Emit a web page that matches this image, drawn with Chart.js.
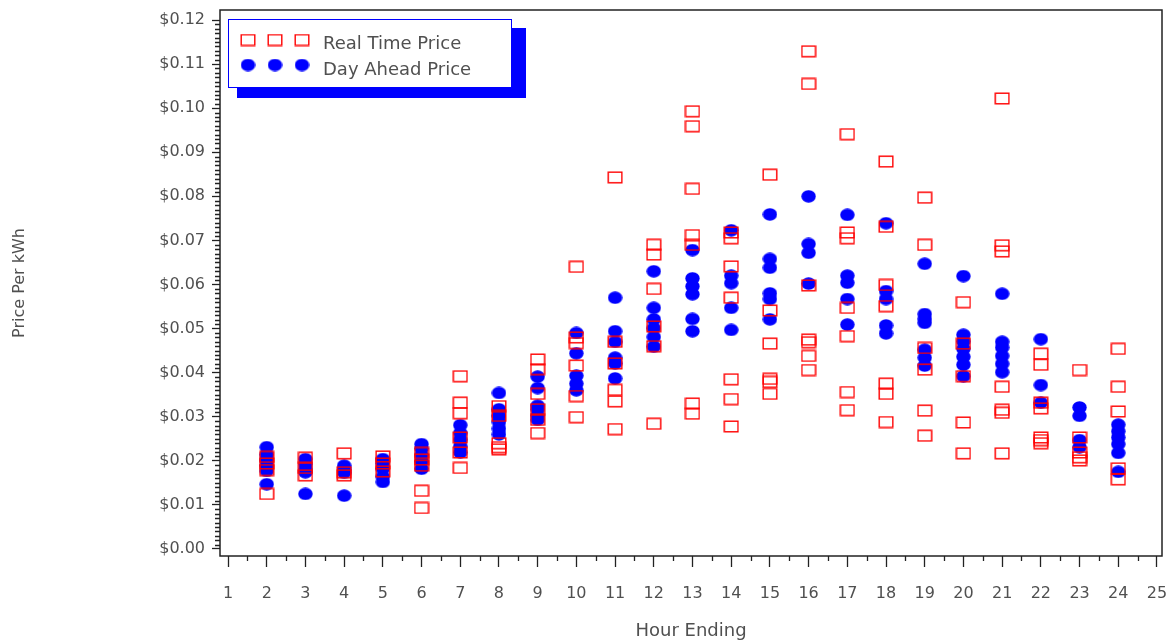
<!DOCTYPE html>
<html>
<head>
<meta charset="utf-8">
<title>Real Time vs Day Ahead Price by Hour</title>
<script src="https://cdn.jsdelivr.net/npm/chart.js@4.4.1/dist/chart.umd.min.js"></script>
<style>
  html, body { margin: 0; padding: 0; background: #ffffff; }
  #wrap { width: 1172px; height: 643px; }
</style>
</head>
<body>
<div id="wrap"><canvas id="priceChart" width="1172" height="643"></canvas></div>
<script>
// Hour ending for each column of observations
const hours = [2, 3, 4, 5, 6, 7, 8, 9, 10, 11, 12, 13, 14, 15, 16, 17, 18, 19, 20, 21, 22, 23, 24];

// Real time price observations ($/kWh), one list per hour above
const realTimePrice = [
  [0.0125, 0.0179, 0.0194, 0.0209],
  [0.0167, 0.0184, 0.0207],
  [0.0167, 0.0174, 0.0217],
  [0.0176, 0.0194, 0.0210],
  [0.0093, 0.0132, 0.0189, 0.0203, 0.0218],
  [0.0184, 0.0219, 0.0253, 0.0308, 0.0332, 0.0392],
  [0.0226, 0.0231, 0.0240, 0.0302, 0.0324],
  [0.0263, 0.0293, 0.0317, 0.0352, 0.0408, 0.0430],
  [0.0299, 0.0347, 0.0416, 0.0467, 0.0480, 0.0640],
  [0.0272, 0.0335, 0.0361, 0.0421, 0.0470, 0.0843],
  [0.0284, 0.0460, 0.0505, 0.0590, 0.0668, 0.0690],
  [0.0307, 0.0330, 0.0690, 0.0712, 0.0817, 0.0959, 0.0993],
  [0.0278, 0.0340, 0.0385, 0.0570, 0.0641, 0.0705, 0.0718],
  [0.0352, 0.0379, 0.0386, 0.0466, 0.0541, 0.0849],
  [0.0406, 0.0438, 0.0469, 0.0475, 0.0598, 0.1055, 0.1129],
  [0.0315, 0.0356, 0.0483, 0.0547, 0.0705, 0.0718, 0.0941],
  [0.0288, 0.0352, 0.0375, 0.0551, 0.0599, 0.0731, 0.0879],
  [0.0257, 0.0314, 0.0407, 0.0456, 0.0690, 0.0797],
  [0.0217, 0.0287, 0.0392, 0.0466, 0.0560],
  [0.0217, 0.0309, 0.0316, 0.0368, 0.0675, 0.0689, 0.1022],
  [0.0240, 0.0247, 0.0253, 0.0319, 0.0332, 0.0418, 0.0443],
  [0.0201, 0.0208, 0.0219, 0.0253, 0.0406],
  [0.0158, 0.0183, 0.0312, 0.0368, 0.0454]
];

// Day ahead price observations ($/kWh), one list per hour above
const dayAheadPrice = [
  [0.0147, 0.0177, 0.0189, 0.0202, 0.0214, 0.0231],
  [0.0125, 0.0174, 0.0182, 0.0192, 0.0204],
  [0.0121, 0.0173, 0.0181, 0.0189],
  [0.0152, 0.0164, 0.0182, 0.0194, 0.0204],
  [0.0182, 0.0199, 0.0213, 0.0228, 0.0238],
  [0.0219, 0.0233, 0.0248, 0.0263, 0.0281],
  [0.0260, 0.0273, 0.0288, 0.0302, 0.0317, 0.0354],
  [0.0293, 0.0302, 0.0317, 0.0325, 0.0365, 0.0391],
  [0.0360, 0.0375, 0.0393, 0.0444, 0.0490],
  [0.0387, 0.0421, 0.0434, 0.0470, 0.0494, 0.0570],
  [0.0459, 0.0481, 0.0501, 0.0521, 0.0547, 0.0630],
  [0.0494, 0.0522, 0.0578, 0.0596, 0.0614, 0.0678],
  [0.0497, 0.0547, 0.0603, 0.0620, 0.0723],
  [0.0521, 0.0567, 0.0580, 0.0638, 0.0658, 0.0759],
  [0.0602, 0.0672, 0.0692, 0.0800],
  [0.0509, 0.0567, 0.0604, 0.0620, 0.0758],
  [0.0489, 0.0507, 0.0567, 0.0585, 0.0739],
  [0.0416, 0.0434, 0.0452, 0.0513, 0.0522, 0.0533, 0.0647],
  [0.0392, 0.0418, 0.0436, 0.0454, 0.0471, 0.0486, 0.0619],
  [0.0401, 0.0420, 0.0438, 0.0457, 0.0470, 0.0579],
  [0.0332, 0.0372, 0.0476],
  [0.0231, 0.0247, 0.0302, 0.0321],
  [0.0175, 0.0218, 0.0238, 0.0253, 0.0267, 0.0282]
];

// Axis tick values
const xTickValues = [1, 2, 3, 4, 5, 6, 7, 8, 9, 10, 11, 12, 13, 14, 15, 16, 17, 18, 19, 20, 21, 22, 23, 24, 25];
const yTickValues = [0, 0.01, 0.02, 0.03, 0.04, 0.05, 0.06, 0.07, 0.08, 0.09, 0.10, 0.11, 0.12];

const seriesLabels = ['Real Time Price', 'Day Ahead Price'];

const TEXT_COLOR = '#505050';
const AXIS_COLOR = '#222222';
const FONT = "'DejaVu Sans', Verdana, sans-serif";

// Flatten hour lists into {x, y} points
function toPoints(lists) {
  const pts = [];
  lists.forEach((vals, i) => vals.forEach(v => pts.push({ x: hours[i], y: v })));
  return pts;
}

// Marker glyphs: open red box and filled blue dot, slightly wider than tall
function boxMarker() {
  const c = document.createElement('canvas');
  c.width = 16; c.height = 13;
  const g = c.getContext('2d');
  g.strokeStyle = '#ff0000';
  g.lineWidth = 1.4;
  g.strokeRect(1.2, 1.2, 13.6, 10.6);
  return c;
}
function dotMarker() {
  const c = document.createElement('canvas');
  c.width = 15; c.height = 13;
  const g = c.getContext('2d');
  g.fillStyle = '#0000ff';
  g.beginPath();
  g.ellipse(7.5, 6.5, 7.2, 6.2, 0, 0, Math.PI * 2);
  g.fill();
  return c;
}
const boxStyle = boxMarker();
const dotStyle = dotMarker();

// Frame around the plot area plus minor tick marks on both axes
const framePlugin = {
  id: 'frame',
  afterDraw(chart) {
    const { ctx, chartArea: a, scales: { x, y } } = chart;
    ctx.save();
    ctx.strokeStyle = AXIS_COLOR;
    ctx.lineWidth = 1.3;
    ctx.beginPath();
    for (let k = 1; k < 120; k++) {
      if (k % 10 === 0) continue;
      const py = Math.round(y.getPixelForValue(k / 1000)) + 0.5;
      ctx.moveTo(a.left - 5, py);
      ctx.lineTo(a.left, py);
    }
    for (let h = 1; h < 25; h++) {
      const px = Math.round(x.getPixelForValue(h + 0.5)) + 0.5;
      ctx.moveTo(px, a.bottom);
      ctx.lineTo(px, a.bottom + 5);
    }
    ctx.stroke();
    ctx.lineWidth = 1.5;
    ctx.strokeRect(a.left, a.top, a.right - a.left, a.bottom - a.top);
    ctx.restore();
  }
};

// Boxed legend with a solid blue drop shadow in the upper left of the plot
const legendPlugin = {
  id: 'boxLegend',
  afterDraw(chart) {
    const { ctx, chartArea: a } = chart;
    const bx = a.left + 8, by = a.top + 9, bw = 284, bh = 69;
    ctx.save();
    ctx.fillStyle = '#0000ff';
    ctx.fillRect(bx + 9, by + 9, bw + 5, bh + 1);
    ctx.fillStyle = '#ffffff';
    ctx.fillRect(bx, by, bw, bh);
    ctx.strokeStyle = '#0000ff';
    ctx.lineWidth = 1;
    ctx.strokeRect(bx + 0.5, by + 0.5, bw - 1, bh - 1);

    const rows = [
      { style: boxStyle, label: chart.data.datasets[0].label, my: by + 21, ty: by + 30 },
      { style: dotStyle, label: chart.data.datasets[1].label, my: by + 46, ty: by + 56 }
    ];
    ctx.font = '18px ' + FONT;
    ctx.fillStyle = TEXT_COLOR;
    ctx.textBaseline = 'alphabetic';
    ctx.textAlign = 'left';
    rows.forEach(r => {
      [20, 47, 74].forEach(dx => {
        ctx.drawImage(r.style, bx + dx - r.style.width / 2, r.my - r.style.height / 2);
      });
      ctx.fillText(r.label, bx + 95, r.ty);
    });
    ctx.restore();
  }
};

const chart = new Chart(document.getElementById('priceChart').getContext('2d'), {
  type: 'scatter',
  data: {
    datasets: [
      { label: seriesLabels[0], data: toPoints(realTimePrice), pointStyle: boxStyle, pointRadius: 6, pointHoverRadius: 6 },
      { label: seriesLabels[1], data: toPoints(dayAheadPrice), pointStyle: dotStyle, pointRadius: 6, pointHoverRadius: 6 }
    ]
  },
  options: {
    responsive: false,
    animation: false,
    events: [],
    layout: { padding: { left: 0, right: 10, top: 10, bottom: 0 } },
    plugins: { legend: { display: false }, tooltip: { enabled: false } },
    scales: {
      x: {
        type: 'linear',
        min: 0.793,
        max: 25.13,
        afterBuildTicks: s => { s.ticks = xTickValues.map(v => ({ value: v })); },
        afterFit: s => { s.height = 87; s.paddingLeft = 0; s.paddingRight = 0; },
        border: { display: false },
        grid: { drawOnChartArea: false, drawTicks: true, tickLength: 11, tickColor: AXIS_COLOR, tickWidth: 1.3 },
        ticks: {
          autoSkip: false, maxRotation: 0, padding: 17,
          color: TEXT_COLOR, font: { family: FONT, size: 16 },
          callback: v => String(v)
        },
        title: {
          display: true, text: 'Hour Ending', color: TEXT_COLOR,
          font: { family: FONT, size: 18 }, padding: { top: 0, bottom: 1 }
        }
      },
      y: {
        type: 'linear',
        min: -0.00159,
        max: 0.12227,
        afterBuildTicks: s => { s.ticks = yTickValues.map(v => ({ value: v })); },
        afterFit: s => { s.width = 220; s.paddingTop = 0; s.paddingBottom = 0; },
        border: { display: false },
        grid: { drawOnChartArea: false, drawTicks: true, tickLength: 8, tickColor: AXIS_COLOR, tickWidth: 1.3 },
        ticks: {
          autoSkip: false, padding: 7,
          color: TEXT_COLOR, font: { family: FONT, size: 16 },
          callback: v => '$' + Number(v).toFixed(2)
        },
        title: {
          display: true, text: 'Price Per kWh', color: TEXT_COLOR,
          font: { family: FONT, size: 16 }, padding: { top: 10, bottom: 0 }
        }
      }
    }
  },
  plugins: [framePlugin, legendPlugin]
});
</script>
</body>
</html>
